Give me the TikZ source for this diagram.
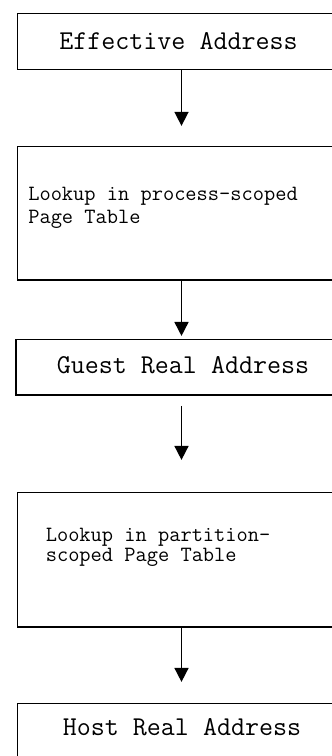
\documentclass[tikz,border=0pt]{standalone}
\usepackage{tikz}
\usetikzlibrary{arrows.meta,positioning}

\begin{document}
\begin{tikzpicture}[x=1pt,y=1pt,line width=1.6pt,
    stage/.style={draw,rectangle,inner sep=0pt,minimum width=328pt},
    bigtxt/.style={inner sep=0pt,anchor=base,font=\ttfamily\fontsize{27.2}{32}\selectfont},
    smalltxt/.style={inner sep=0pt,anchor=base west,align=left},
    flow/.style={-{Triangle[width=14pt,length=14pt]}}]
  \useasboundingbox (0,0) rectangle (332,-756);
  \clip (0,0) rectangle (332,-756);
  % the five stages
  \node[stage,minimum height=56pt] (ea) at (181.5,-41.3) {};
  \node[stage,minimum height=133.3pt] (ptproc) at (181.5,-213.3) {};
  \node[stage,minimum height=55.7pt,minimum width=331.6pt] (gra) at (181.5,-367.2) {};
  \node[stage,minimum height=134.4pt] (ptpart) at (181.5,-559.5) {};
  \node[stage,minimum height=56pt] (hra) at (181.5,-731.3) {};
  % texts (multi-line ones sit on the baseline of their last line)
  \node[bigtxt] (eatxt) at (178.5,-49.3) {Effective Address};
  \node[smalltxt,font=\ttfamily\fontsize{21.8}{22.6}\selectfont] (ptproctxt) at (27.5,-223.3)
     {Lookup in process-scoped\\Page Table};
  \node[bigtxt] (gratxt) at (183,-373.3) {Guest Real Address};
  \node[smalltxt,font=\ttfamily\fontsize{21.8}{20}\selectfont] (ptparttxt) at (45,-561.7)
     {Lookup in partition-\\scoped Page Table};
  \node[bigtxt] (hratxt) at (182,-735.7) {Host Real Address};
  % arrows
  \draw[flow,shorten >=20pt] (ea.south) -- (ptproc.north);
  \draw[flow,shorten >=2.6pt] (ptproc.south) -- (gra.north);
  \draw[flow,shorten <=10pt,shorten >=31.6pt] (gra.south) -- (ptpart.north);
  \draw[flow,shorten >=20.6pt] (ptpart.south) -- (hra.north);
\end{tikzpicture}
\end{document}
